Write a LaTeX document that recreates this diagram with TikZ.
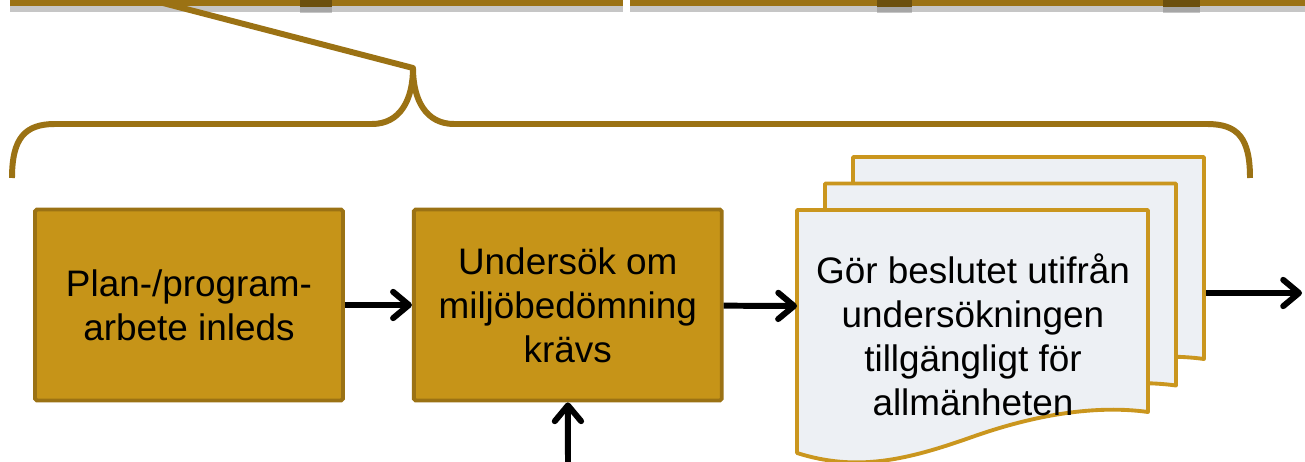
\documentclass[tikz,border=0pt]{standalone}
\usepackage{fontspec}
\setmainfont{Liberation Sans}
\usetikzlibrary{positioning,arrows.meta,shadows}
\definecolor{gold}{RGB}{198,148,24}
\definecolor{golddark}{RGB}{155,114,20}
\definecolor{pagegold}{RGB}{202,150,30}
\definecolor{pagefill}{RGB}{237,240,244}
\begin{document}
\begin{tikzpicture}[
                    x=0.02cm, y=-0.02cm,
                    node distance=1.34cm,
                    >={Straight Barb[length=9pt,width=15pt,line cap=round,line join=round]},
                    font=\fontsize{21}{25}\selectfont,
                    stepbox/.style={rectangle, draw=golddark, fill=gold, line width=2.2pt, rounded corners=1pt,
                                    minimum width=6.16cm, minimum height=3.82cm, align=center},
                    page/.style={draw=pagegold, fill=pagefill, line width=2.2pt, line join=round},
                    flow/.style={->, line width=3.4pt},
                    brace/.style={draw=golddark, line width=3.4pt, line join=round},
                    bar/.style={fill=golddark, inner sep=0pt, anchor=north west,
                                drop shadow={shadow xshift=0pt, shadow yshift=-3pt, opacity=0.45}}
                ]
                \useasboundingbox (0,0) rectangle (1305,462);
                \clip (0,0) rectangle (1305,462);

                % Top bars
                \node [bar, minimum width=12.26cm, minimum height=0.32cm] (bar1) at (10,-10) {};
                \node [bar, minimum width=13.6cm, minimum height=0.32cm] (bar2) at (630,-10) {};
                \node [bar, fill=golddark!70!black, minimum width=0.64cm, minimum height=0.34cm] (knob1) at (300,-10) {};
                \node [bar, fill=golddark!70!black, minimum width=0.7cm, minimum height=0.34cm] (knob2) at (877,-10) {};
                \node [bar, fill=golddark!70!black, minimum width=0.74cm, minimum height=0.34cm] (knob3) at (1163,-10) {};

                % Brace
                \coordinate (tail) at (163,3);
                \coordinate (apex) at (413,68);
                \draw [brace] (tail) -- (apex);
                \draw [brace] (12,178) .. controls (12,138) and (25,124) .. (55,124) -- (372,124)
                    .. controls (400,124) and (413,100) .. (apex)
                    .. controls (413,100) and (426,124) .. (454,124) -- (1207,124)
                    .. controls (1238,124) and (1250,138) .. (1250,178);

                % Blocks
                \node [stepbox] (start) at (189,305) {Plan-/program-\\arbete inleds};
                \node [stepbox, right=of start] (check) {Undersök om\\miljöbedömning\\krävs};
                \foreach \dx/\dy in {56/-53, 28/-26.5, 0/0} {
                    \path [page, shift={({797+\dx},{210+\dy})}] (0,0) -- (351,0) -- (351,202)
                        .. controls (300,195) and (240,204) .. (175,227)
                        .. controls (110,250) and (60,262) .. (0,243) -- cycle;
                }
                \node [align=center] (doc) at (973,335) {Gör beslutet utifrån\\undersökningen\\tillgängligt för\\allmänheten};
                \coordinate (docin) at (797,306);
                \coordinate (docout) at (1206,293);
                \coordinate (exit) at (1302,293);
                \coordinate (entry) at (568,470);

                % Connections
                \draw [flow] (start) -- (check);
                \draw [flow] (check) -- (docin);
                \draw [flow] (entry) -- (check);
                \draw [flow] (docout) -- (exit);
            \end{tikzpicture}
\end{document}
